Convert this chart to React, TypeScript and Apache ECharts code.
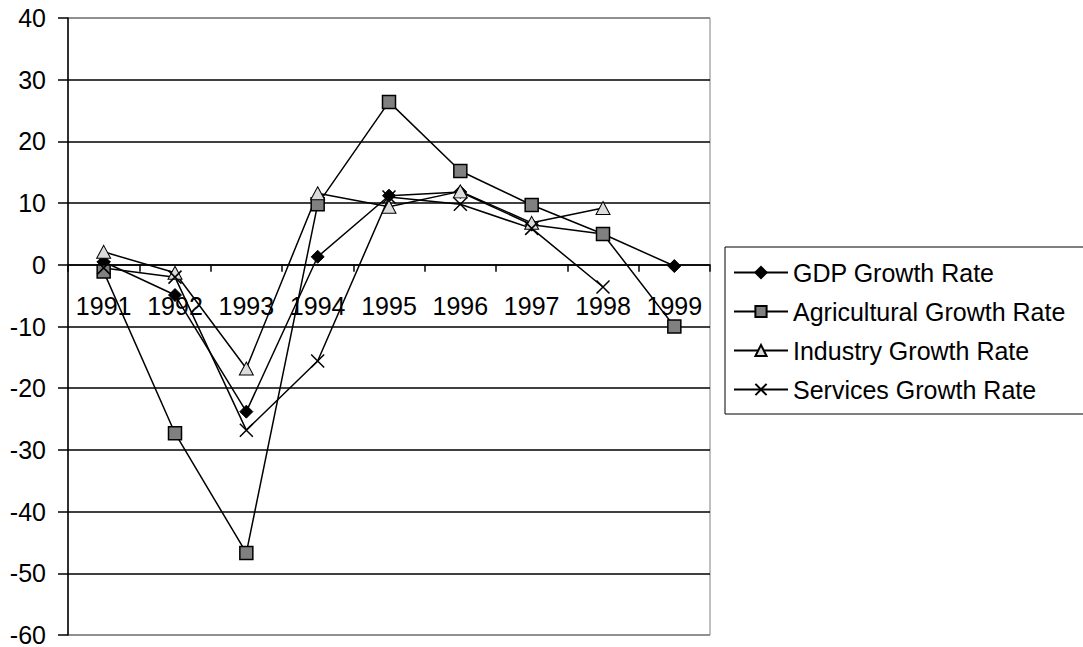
import React, { useEffect, useRef } from "react";
import * as echarts from "echarts";

const years = ["1991", "1992", "1993", "1994", "1995", "1996", "1997", "1998", "1999"];
const gdpGrowth = [0.5, -4.9, -23.8, 1.3, 11.2, 11.8, 6.5, 5.0, -0.2];
const agriGrowth = [-1.1, -27.3, -46.7, 9.8, 26.4, 15.2, 9.7, 5.0, -10.0];
const industryGrowth = [2.1, -1.3, -16.8, 11.6, 9.4, 11.9, 6.8, 9.2, null];
const servicesGrowth = [-0.5, -2.0, -26.8, -15.6, 11.0, 9.8, 5.9, -3.6, null];
const yTicks = [-60, -50, -40, -30, -20, -10, 0, 10, 20, 30, 40];

const FONT = "'Liberation Sans', Arial, sans-serif";
const CROSS = "path://M0,0L10,10M10,0L0,10";

export default function App() {
  const ref = useRef<HTMLDivElement>(null);
  useEffect(() => {
    const chart = echarts.init(ref.current!, null, { renderer: "svg" });
    const lineStyle = { color: "#000", width: 1.5 };
    const splitColors = yTicks.map((v, i) => (i === 0 || i === yTicks.length - 1 ? "#808080" : "#000"));
    chart.setOption({
      animation: false,
      backgroundColor: "#fff",
      textStyle: { fontFamily: FONT },
      grid: {
        left: 68,
        right: 373,
        top: 18,
        bottom: 12,
        containLabel: false,
        outerBoundsMode: "none",
        show: true,
        borderColor: "#808080",
        borderWidth: 1,
      },
      legend: {
        orient: "vertical",
        left: 725,
        top: 247,
        padding: [13, 40, 12, 8],
        borderColor: "#000",
        borderWidth: 1,
        itemWidth: 54,
        itemHeight: 14,
        itemGap: 14,
        textStyle: { fontSize: 25, color: "#000", fontFamily: FONT },
        data: ["GDP Growth Rate", "Agricultural Growth Rate", "Industry Growth Rate", "Services Growth Rate"],
      },
      xAxis: {
        type: "category",
        data: years,
        boundaryGap: true,
        axisLine: { onZero: true, lineStyle: { color: "#000", width: 1.5 } },
        axisTick: { show: true, length: 7, lineStyle: { color: "#000", width: 1.5 } },
        axisLabel: { color: "#000", fontSize: 25, margin: -342, interval: 0, hideOverlap: false, fontFamily: FONT },
        splitLine: { show: false },
      },
      yAxis: {
        type: "value",
        min: -60,
        max: 40,
        interval: 10,
        axisLine: { show: true, lineStyle: { color: "#000", width: 1.5 } },
        axisTick: { show: true, length: 10, lineStyle: { color: "#000", width: 1.5 } },
        axisLabel: { color: "#000", fontSize: 25, margin: 22, fontFamily: FONT },
        splitLine: { show: true, lineStyle: { color: splitColors, width: 1.5 } },
      },
      series: [
        {
          name: "GDP Growth Rate",
          type: "line",
          data: gdpGrowth,
          symbol: "diamond",
          symbolSize: 13,
          lineStyle,
          itemStyle: { color: "#000", borderColor: "#000", borderWidth: 1 },
        },
        {
          name: "Agricultural Growth Rate",
          type: "line",
          data: agriGrowth,
          symbol: "rect",
          symbolSize: 13,
          lineStyle,
          itemStyle: { color: "#808080", borderColor: "#000", borderWidth: 1.5 },
        },
        {
          name: "Industry Growth Rate",
          type: "line",
          data: industryGrowth,
          symbol: "triangle",
          symbolSize: [14, 13],
          lineStyle,
          itemStyle: { color: "#dcdcdc", borderColor: "#000", borderWidth: 1 },
        },
        {
          name: "Services Growth Rate",
          type: "line",
          data: servicesGrowth,
          symbol: CROSS,
          symbolSize: 13,
          lineStyle,
          itemStyle: { color: "none", borderColor: "#000", borderWidth: 1.5 },
        },
      ],
    });
    return () => chart.dispose();
  }, []);
  return (
    <div
      ref={ref}
      style={{ position: "fixed", left: 0, top: 0, width: 1083, height: 647, background: "#fff" }}
    />
  );
}
